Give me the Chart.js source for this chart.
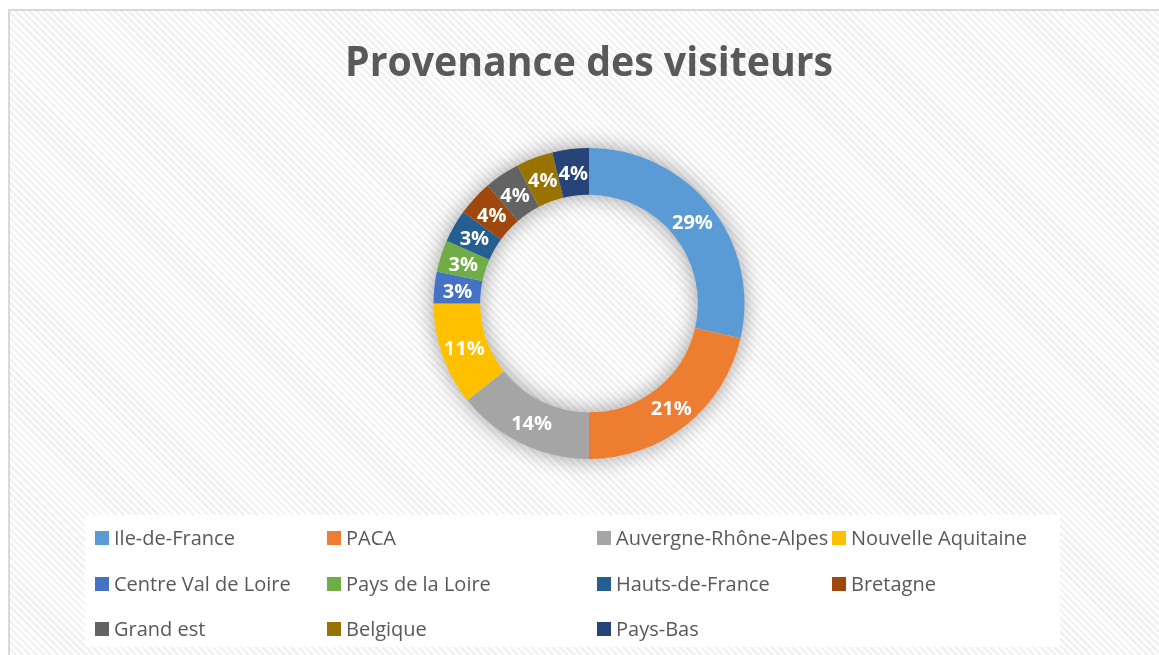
<!DOCTYPE html>
<html>
<head>
<meta charset="utf-8">
<script src="https://cdn.jsdelivr.net/npm/chart.js@4"></script>
<style>
    html, body { margin: 0; padding: 0; background: #fff; overflow: hidden; }
    #frame {
        position: absolute; left: 8px; top: 9px; width: 1200px; height: 700px;
        border: 2px solid #d9d9d9;
        background: repeating-linear-gradient(45deg, #ffffff 0px, #ffffff 2.5px, #f2f2f2 2.5px, #f2f2f2 5px);
    }
    #chart { position: absolute; left: 0; top: 0; }
</style>
</head>
<body>
<div id="frame"></div>
<canvas id="chart" width="1159" height="655"></canvas>
<script>
// Data (percent of visitors)
const regions = ['Ile-de-France', 'PACA', 'Auvergne-Rhône-Alpes', 'Nouvelle Aquitaine',
    'Centre Val de Loire', 'Pays de la Loire', 'Hauts-de-France', 'Bretagne',
    'Grand est', 'Belgique', 'Pays-Bas'];
const visitors = [28.6, 21.4, 14.3, 10.7, 3.3, 3.3, 3.4, 3.7, 3.7, 3.8, 3.8];
const sliceColors = ['#5B9BD5', '#ED7D31', '#A5A5A5', '#FFC000', '#4472C4', '#70AD47',
    '#255E91', '#9E480E', '#636363', '#997300', '#264478'];
const chartTitle = 'Provenance des visiteurs';

const textGray = '#595959';
const fontName = '"Open Sans", "Noto Sans", sans-serif';

// soft shadow under the ring
const ringShadow = {
    id: 'ringShadow',
    beforeDatasetsDraw(chart) {
        const arc = chart.getDatasetMeta(0).data[0];
        if (!arc) return;
        const ctx = chart.ctx;
        ctx.save();
        ctx.shadowColor = 'rgba(0,0,0,0.38)';
        ctx.shadowBlur = 22;
        ctx.fillStyle = '#dddddd';
        ctx.beginPath();
        ctx.arc(arc.x, arc.y, arc.outerRadius, 0, Math.PI * 2);
        ctx.arc(arc.x, arc.y, arc.innerRadius, Math.PI * 2, 0, true);
        ctx.fill();
        ctx.restore();
    }
};

// percentage labels on the slices
const sliceLabels = {
    id: 'sliceLabels',
    afterDatasetsDraw(chart) {
        const ctx = chart.ctx;
        const values = chart.data.datasets[0].data;
        const total = values.reduce((a, b) => a + b, 0);
        ctx.save();
        ctx.font = 'bold 20px ' + fontName;
        ctx.fillStyle = '#ffffff';
        ctx.textAlign = 'center';
        ctx.textBaseline = 'middle';
        chart.getDatasetMeta(0).data.forEach((arc, i) => {
            const pos = arc.tooltipPosition();
            ctx.fillText(Math.round(values[i] / total * 100) + '%', pos.x, pos.y + 2);
        });
        ctx.restore();
    }
};

// title and the four column legend, the way Excel lays it out
const titleAndLegend = {
    id: 'titleAndLegend',
    beforeDraw(chart) {
        const ctx = chart.ctx;
        ctx.save();
        ctx.fillStyle = '#ffffff';
        ctx.fillRect(85, 515, 975, 132);
        ctx.restore();
    },
    afterDraw(chart) {
        const ctx = chart.ctx;
        ctx.save();
        // title
        ctx.font = 'bold 42px ' + fontName;
        ctx.fillStyle = textGray;
        ctx.textBaseline = 'alphabetic';
        ctx.textAlign = 'center';
        const w = ctx.measureText(chartTitle).width;
        const sx = Math.min(1, 488 / w);
        ctx.translate(589, 76);
        ctx.scale(sx, 1);
        ctx.fillText(chartTitle, 0, 0);
        ctx.setTransform(1, 0, 0, 1, 0, 0);

        // legend
        const colX = [95, 327, 597, 832];
        const rowY = [545, 591, 636];
        ctx.font = '20px ' + fontName;
        ctx.textAlign = 'left';
        const colors = chart.data.datasets[0].backgroundColor;
        chart.data.labels.forEach((label, i) => {
            const x = colX[i % 4];
            const y = rowY[Math.floor(i / 4)];
            ctx.fillStyle = colors[i];
            ctx.fillRect(x, y - 14, 14, 14);
            ctx.fillStyle = textGray;
            ctx.fillText(label, x + 19, y);
        });
        ctx.restore();
    }
};

new Chart(document.getElementById('chart'), {
    type: 'doughnut',
    data: {
        labels: regions,
        datasets: [{
            data: visitors,
            backgroundColor: sliceColors,
            borderWidth: 0,
            hoverOffset: 0
        }]
    },
    options: {
        responsive: false,
        animation: false,
        cutout: '70%',
        layout: { padding: { top: 148, bottom: 196, left: 19, right: 0 } },
        plugins: {
            legend: { display: false },
            title: { display: false },
            tooltip: { enabled: false }
        }
    },
    plugins: [ringShadow, sliceLabels, titleAndLegend]
});
</script>
</body>
</html>
